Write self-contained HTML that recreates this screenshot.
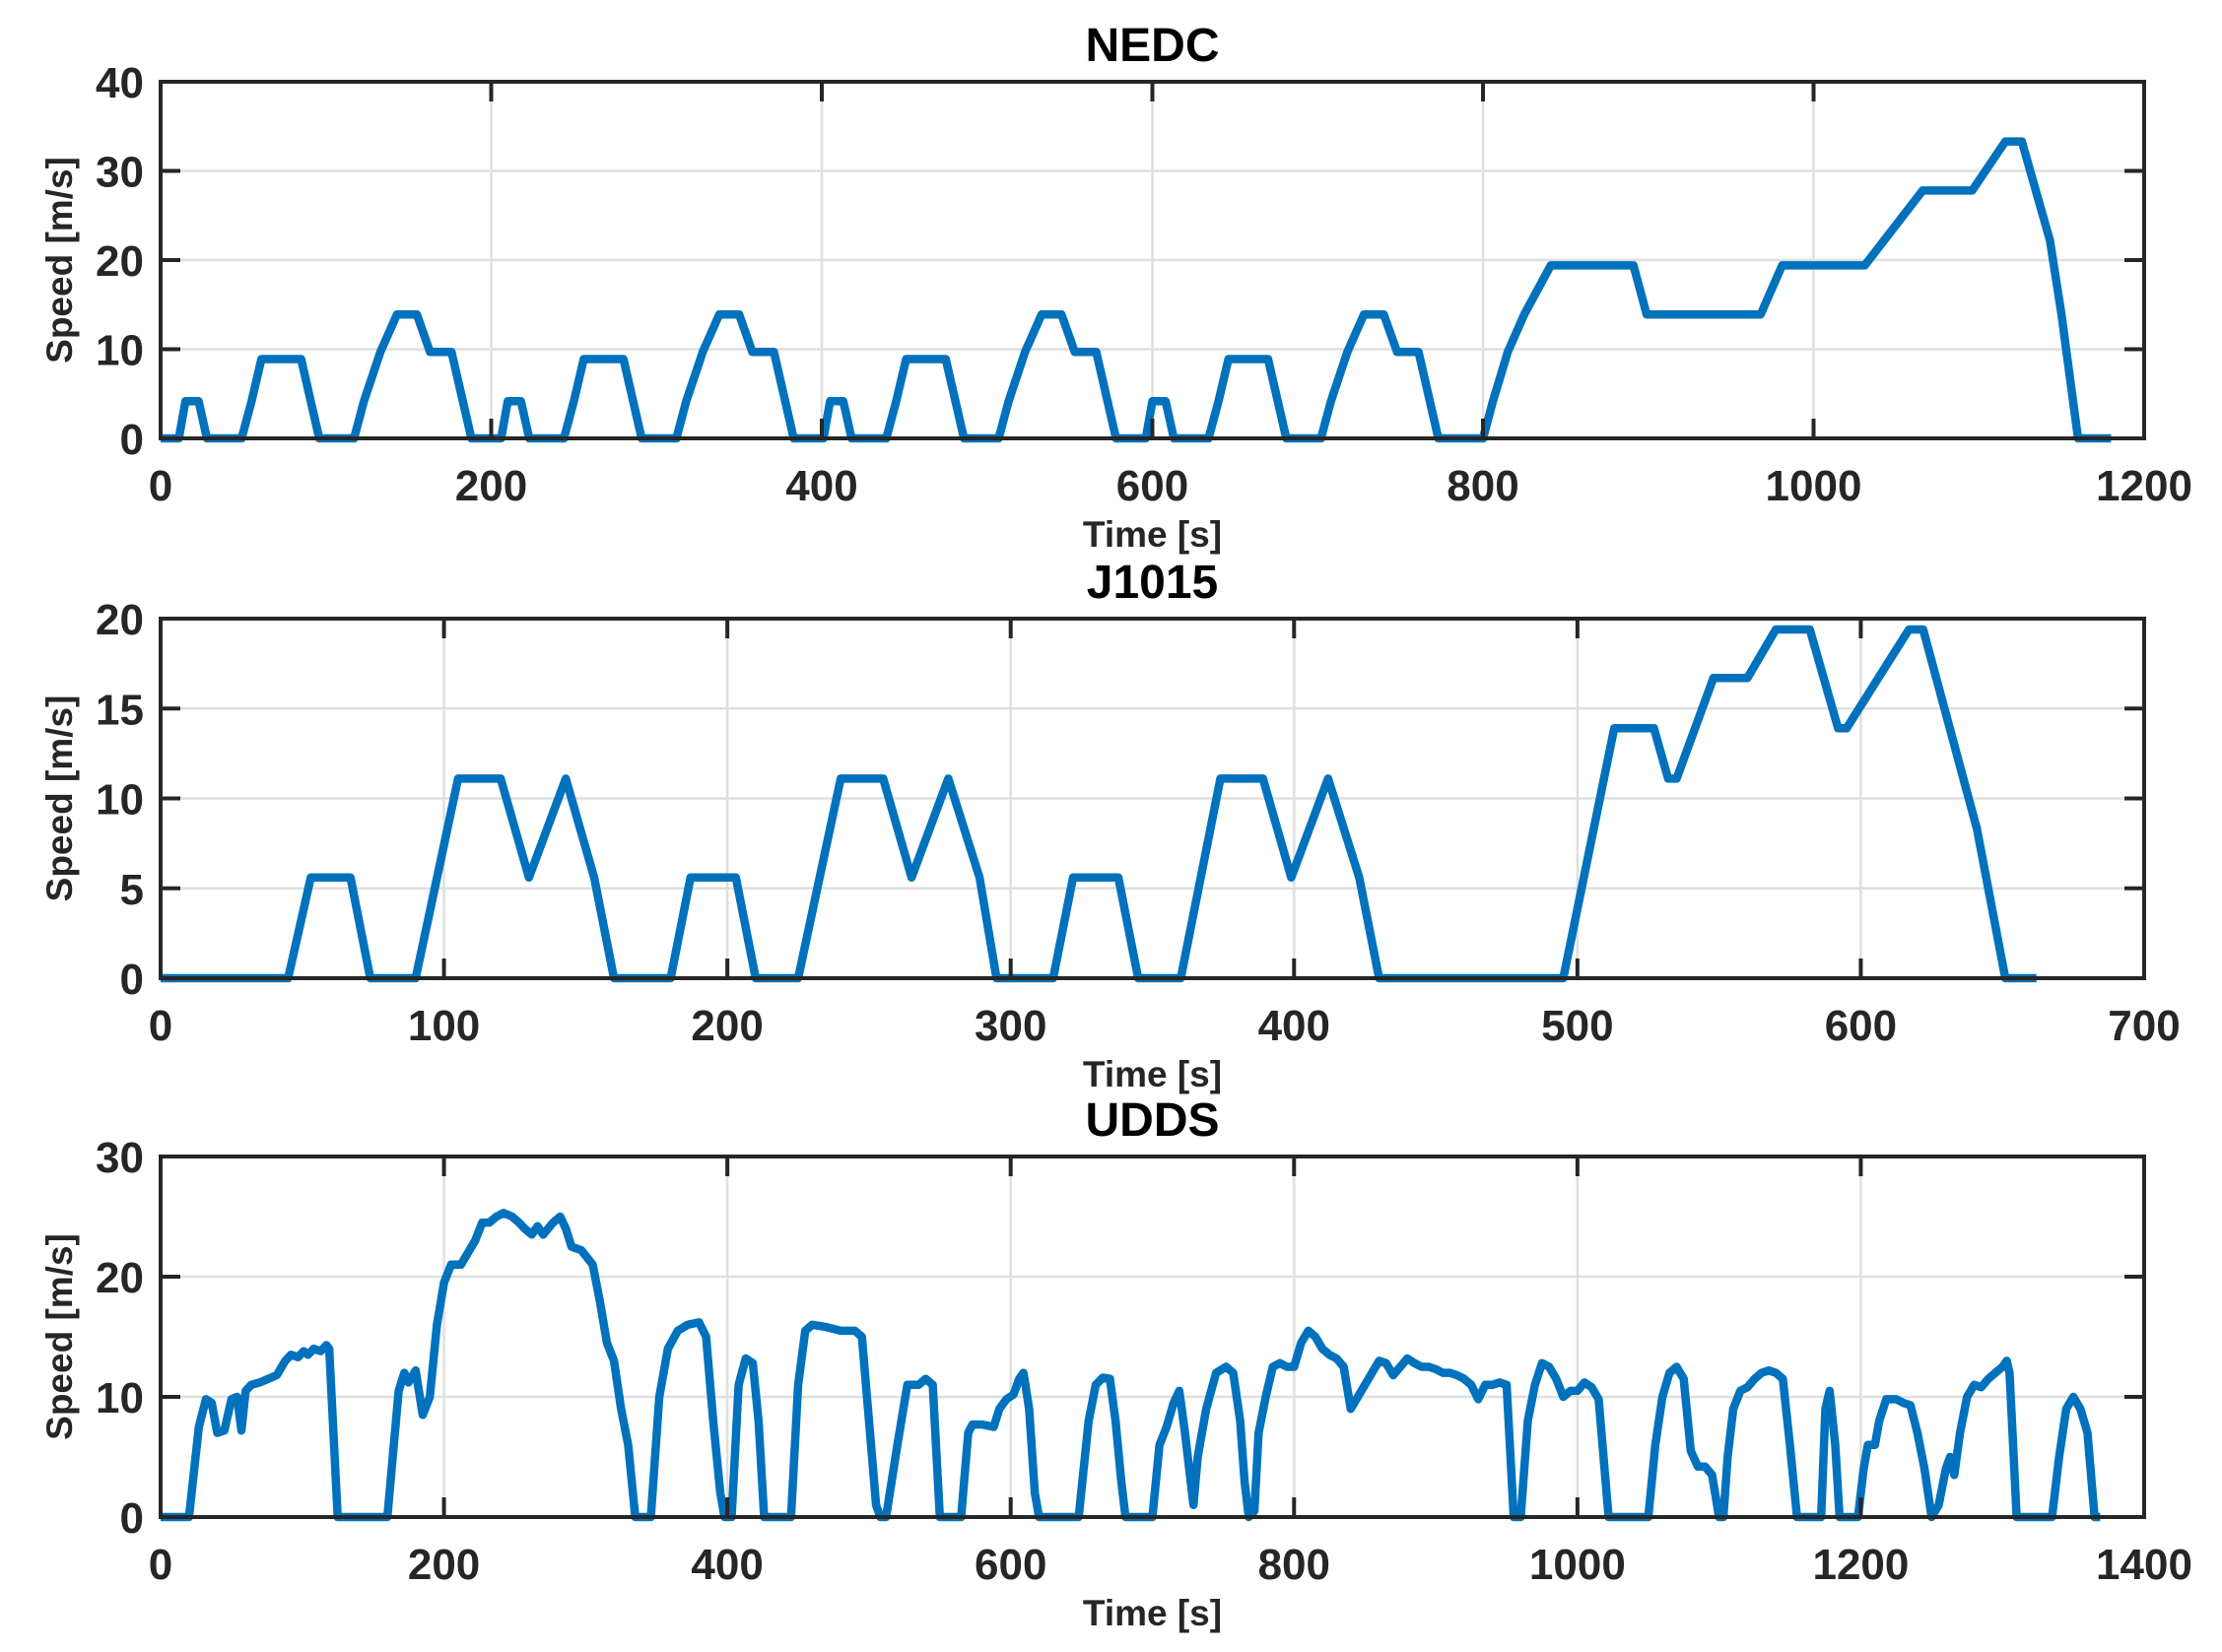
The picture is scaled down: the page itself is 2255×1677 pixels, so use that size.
<!DOCTYPE html>
<html><head><meta charset="utf-8">
<style>
html,body{margin:0;padding:0;background:#fff;}
svg{display:block;}
text{font-family:"Liberation Sans",Arial,sans-serif;font-weight:bold;}
</style></head>
<body>
<svg id="s" width="2255" height="1677" viewBox="0 0 2255 1677" xmlns="http://www.w3.org/2000/svg"></svg>
<script>
const NS="http://www.w3.org/2000/svg";
const svg=document.getElementById('s');
function el(t,a,txt){const e=document.createElementNS(NS,t);for(const k in a)e.setAttribute(k,a[k]);if(txt!==undefined)e.textContent=txt;svg.appendChild(e);return e;}
const X0=163,X1=2176;
const ece=[[0,0],[11,0],[15,4.17],[23,4.17],[28,0],[49,0],[55,4.17],[61,8.9],[85,8.9],[96,0],[117,0],[123,4.17],[133,9.7],[143,13.9],[155,13.9],[163,9.7],[176,9.7],[188,0],[195,0]];
let nedc=[];
for(let k=0;k<4;k++)for(const p of ece)nedc.push([p[0]+195*k,p[1]]);
nedc=nedc.concat([[800,0],[806,4.17],[815,9.7],[825,13.9],[841,19.4],[891,19.4],[899,13.9],[968,13.9],[981,19.4],[1031,19.4],[1066,27.8],[1096,27.8],[1116,33.3],[1126,33.3],[1143,22.2],[1150,13.9],[1160,0],[1180,0]]);
const j=[[0,0],[45,0],[53,5.6],[67,5.6],[74,0],[90,0],[105,11.1],[120,11.1],[130,5.6],[143,11.1],[153,5.6],[160,0],[180,0],[187,5.6],[203,5.6],[210,0],[225,0],[240,11.1],[255,11.1],[265,5.6],[278,11.1],[289,5.6],[295,0],[315,0],[322,5.6],[338,5.6],[345,0],[360,0],[374,11.1],[389,11.1],[399,5.6],[412,11.1],[423,5.6],[430,0],[495,0],[513,13.9],[527,13.9],[532,11.1],[535,11.1],[548,16.7],[560,16.7],[570,19.4],[582,19.4],[592,13.9],[595,13.9],[617,19.4],[622,19.4],[641,8.3],[651,0],[662,0]];
const ud=[[0,0],[20,0],[27,7.5],[32,9.8],[36,9.5],[40,7],[45,7.2],[50,9.8],[54,10],[57,7.2],[60,10.5],[64,11],[70,11.2],[76,11.5],[82,11.8],[88,13],[92,13.5],[97,13.3],[101,13.8],[104,13.5],[108,14],[113,13.8],[117,14.3],[119,14],[125,0],[160,0],[168,10.5],[172,12],[175,11.2],[180,12.2],[185,8.5],[190,10],[195,16],[200,19.5],[205,21],[212,21],[217,22],[222,23],[227,24.5],[232,24.5],[237,25],[242,25.3],[248,25],[253,24.5],[257,24],[262,23.5],[266,24.2],[270,23.5],[277,24.5],[282,25],[286,24],[290,22.5],[297,22.2],[305,21],[310,18],[315,14.5],[320,13],[325,9],[330,6],[335,0],[346,0],[352,10],[358,14],[365,15.5],[372,16],[380,16.2],[385,15],[390,8],[395,2],[398,0],[403,0],[408,11],[413,13.2],[418,12.8],[422,8],[426,0],[445,0],[450,11],[455,15.5],[460,16],[470,15.8],[480,15.5],[490,15.5],[495,15],[500,8],[505,1],[508,0],[512,0],[520,6],[527,11],[535,11],[540,11.5],[545,11],[550,0],[565,0],[570,7],[573,7.7],[580,7.7],[588,7.5],[592,9],[597,9.8],[602,10.2],[606,11.5],[609,12],[613,9],[617,2],[620,0],[648,0],[655,8],[660,11],[665,11.6],[670,11.5],[674,8],[678,3],[681,0],[700,0],[705,6],[710,7.5],[715,9.5],[719,10.5],[723,7],[727,3],[729,1],[732,5],[738,9],[745,12],[752,12.5],[757,12],[762,8],[765,3],[768,0],[772,0.5],[775,7],[780,10],[785,12.5],[790,12.8],[795,12.5],[800,12.5],[805,14.5],[810,15.5],[815,15],[820,14],[825,13.5],[830,13.2],[835,12.5],[840,9],[845,10],[850,11],[855,12],[860,13],[865,12.8],[870,11.8],[875,12.5],[880,13.2],[885,12.8],[890,12.5],[895,12.5],[900,12.3],[905,12],[910,12],[915,11.8],[920,11.5],[925,11],[930,9.8],[935,11],[940,11],[945,11.2],[950,11],[955,0],[960,0],[965,8],[970,11],[975,12.8],[980,12.5],[985,11.5],[990,10],[995,10.5],[1000,10.5],[1005,11.2],[1010,10.8],[1015,9.8],[1022,0],[1050,0],[1055,6],[1060,10],[1065,12],[1070,12.5],[1075,11.5],[1080,5.5],[1085,4.2],[1090,4.2],[1095,3.5],[1100,0],[1103,0],[1106,5],[1110,9],[1115,10.5],[1120,10.8],[1125,11.5],[1130,12],[1135,12.2],[1140,12],[1145,11.5],[1150,6],[1155,0],[1172,0],[1175,9],[1178,10.5],[1182,6],[1185,0],[1198,0],[1202,4],[1205,6],[1210,6],[1213,8],[1218,9.8],[1225,9.8],[1230,9.5],[1235,9.3],[1240,7],[1245,4],[1250,0],[1255,1],[1260,4],[1263,5],[1266,3.5],[1270,7],[1275,10],[1280,11],[1285,10.8],[1290,11.5],[1295,12],[1300,12.5],[1303,13],[1305,12],[1310,0],[1335,0],[1340,5],[1345,9],[1350,10],[1355,9],[1360,7],[1365,0],[1369,0]];
const panels=[
 {t:'NEDC',y0:83,y1:445,xmax:1200,xs:200,ymax:40,ys:10,d:nedc},
 {t:'J1015',y0:628,y1:993,xmax:700,xs:100,ymax:20,ys:5,d:j},
 {t:'UDDS',y0:1174,y1:1540,xmax:1400,xs:200,ymax:30,ys:10,d:ud}
];
const C='#262626';
for(const P of panels){
 const fx=v=>X0+(X1-X0)*v/P.xmax, fy=v=>P.y1-(P.y1-P.y0)*v/P.ymax;
 for(let v=P.xs;v<P.xmax;v+=P.xs)el('line',{x1:fx(v),x2:fx(v),y1:P.y0,y2:P.y1,stroke:'#dfdfdf','stroke-width':2.5});
 for(let v=P.ys;v<P.ymax;v+=P.ys)el('line',{x1:X0,x2:X1,y1:fy(v),y2:fy(v),stroke:'#dfdfdf','stroke-width':2.5});
 el('polyline',{points:P.d.map(p=>fx(p[0]).toFixed(1)+','+fy(p[1]).toFixed(1)).join(' '),fill:'none',stroke:'#0072BD','stroke-width':8.5,'stroke-linejoin':'round'});
 for(let v=0;v<=P.xmax;v+=P.xs){const x=fx(v);
  el('line',{x1:x,x2:x,y1:P.y1,y2:P.y1-20,stroke:C,'stroke-width':4});
  el('line',{x1:x,x2:x,y1:P.y0,y2:P.y0+20,stroke:C,'stroke-width':4});
  el('text',{x:x,y:P.y1+63,'text-anchor':'middle','font-size':44,fill:C},String(v));}
 for(let v=0;v<=P.ymax;v+=P.ys){const y=fy(v);
  el('line',{x1:X0,x2:X0+20,y1:y,y2:y,stroke:C,'stroke-width':4});
  el('line',{x1:X1,x2:X1-20,y1:y,y2:y,stroke:C,'stroke-width':4});
  el('text',{x:146,y:y+16,'text-anchor':'end','font-size':44,fill:C},String(v));}
 el('rect',{x:X0,y:P.y0,width:X1-X0,height:P.y1-P.y0,fill:'none',stroke:C,'stroke-width':4});
 el('text',{x:(X0+X1)/2,y:P.y0-21,'text-anchor':'middle','font-size':48,fill:'#000'},P.t);
 el('text',{x:(X0+X1)/2,y:P.y1+110,'text-anchor':'middle','font-size':37,fill:C},'Time [s]');
 const cy=(P.y0+P.y1)/2;
 el('text',{x:0,y:0,'text-anchor':'middle','font-size':37,fill:C,transform:`translate(73,${cy}) rotate(-90)`},'Speed [m/s]');
}
</script>
</body></html>
